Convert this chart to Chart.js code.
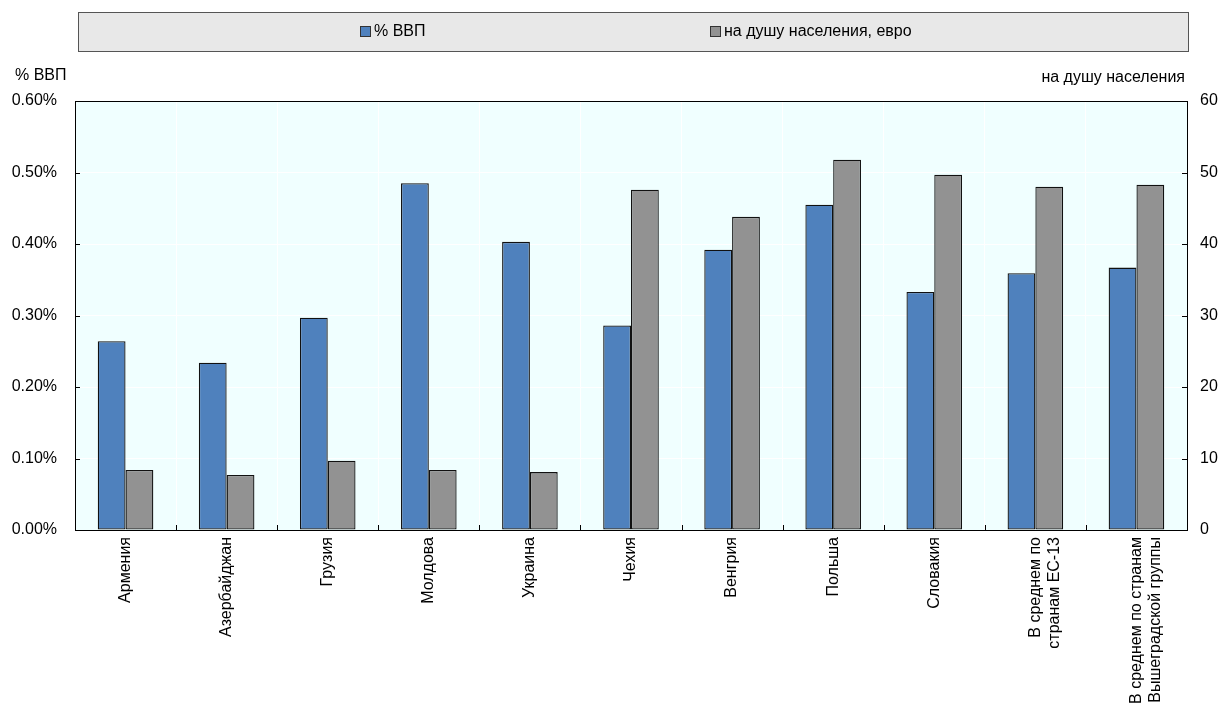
<!DOCTYPE html>
<html>
<head>
<meta charset="utf-8">
<script src="https://cdn.jsdelivr.net/npm/chart.js@4.4.1/dist/chart.umd.min.js"></script>
<style>
  html, body { margin: 0; padding: 0; background: #fff; }
  #wrap { width: 1223px; height: 706px; }
</style>
</head>
<body>
<div id="wrap"><canvas id="chart" width="1223" height="706"></canvas></div>
<script>
// categories and series
var countries = [
  'Армения', 'Азербайджан', 'Грузия', 'Молдова', 'Украина', 'Чехия',
  'Венгрия', 'Польша', 'Словакия',
  ['В среднем по', 'странам ЕС-13'],
  ['В среднем по странам', 'Вышеградской группы']
];
var gdpShare = [0.264, 0.234, 0.297, 0.485, 0.403, 0.286, 0.392, 0.455, 0.333, 0.359, 0.367]; // % ВВП
var perCapita = [8.4, 7.7, 9.7, 8.4, 8.1, 47.6, 43.8, 51.8, 49.7, 48.0, 48.3];             // евро
var seriesNames = ['% ВВП', 'на душу населения, евро'];
var leftTitle = '% ВВП';
var rightTitle = 'на душу населения';

var BLUE = '#4f81bd';
var GREY = '#929292';
var FONT = '"Liberation Sans", Arial, sans-serif';

Chart.defaults.font.family = FONT;
Chart.defaults.font.size = 16;
Chart.defaults.color = '#000';

// backgrounds, border, inner ticks, axis titles and the legend strip
var decor = {
  id: 'decor',
  beforeDraw: function (chart) {
    var c = chart.ctx, a = chart.chartArea;
    c.save();
    c.fillStyle = '#fff';
    c.fillRect(0, 0, chart.width, chart.height);
    c.fillStyle = '#f0ffff';
    c.fillRect(a.left, a.top, a.right - a.left, a.bottom - a.top);
    c.restore();
  },
  afterDatasetsDraw: function (chart) {
    var c = chart.ctx, a = chart.chartArea;
    var x = chart.scales.x, y = chart.scales.y, y1 = chart.scales.y1;
    c.save();
    c.strokeStyle = '#000';
    c.lineWidth = 1;
    c.beginPath();
    // ticks on left/right axes, pointing inward
    y.ticks.forEach(function (t) {
      var py = Math.round(y.getPixelForValue(t.value)) + 0.5;
      c.moveTo(a.left, py); c.lineTo(a.left + 5, py);
    });
    y1.ticks.forEach(function (t) {
      var py = Math.round(y1.getPixelForValue(t.value)) + 0.5;
      c.moveTo(a.right - 5, py); c.lineTo(a.right, py);
    });
    // category boundary ticks on the bottom axis
    for (var i = 1; i < countries.length; i++) {
      var px = Math.round((x.getPixelForTick(i - 1) + x.getPixelForTick(i)) / 2) + 0.5;
      c.moveTo(px, a.bottom - 5); c.lineTo(px, a.bottom);
    }
    c.stroke();
    c.strokeRect(Math.round(a.left) + 0.5, Math.round(a.top) + 0.5,
      Math.round(a.right - a.left), Math.round(a.bottom - a.top));
    c.restore();
  },
  afterDraw: function (chart) {
    var c = chart.ctx;
    c.save();
    c.font = '16px ' + FONT;
    c.fillStyle = '#000';
    c.textBaseline = 'middle';
    c.textAlign = 'left';
    c.fillText(leftTitle, 15, 76);
    c.textAlign = 'right';
    c.fillText(rightTitle, 1185, 78);

    // legend strip
    c.fillStyle = '#e8e8e8';
    c.fillRect(78, 12, 1110, 39);
    c.strokeStyle = '#555';
    c.lineWidth = 1;
    c.strokeRect(78.5, 12.5, 1110, 39);
    var items = [[360, BLUE], [710, GREY]];
    c.textAlign = 'left';
    items.forEach(function (it, k) {
      c.fillStyle = it[1];
      c.fillRect(it[0], 26, 11, 11);
      c.strokeStyle = '#333';
      c.strokeRect(it[0] + 0.5, 26.5, 10, 10);
      c.fillStyle = '#000';
      c.fillText(seriesNames[k], it[0] + 14, 32);
    });
    c.restore();
  }
};

new Chart(document.getElementById('chart'), {
  type: 'bar',
  data: {
    labels: countries,
    datasets: [
      {
        label: seriesNames[0],
        data: gdpShare,
        yAxisID: 'y',
        backgroundColor: BLUE,
        borderColor: '#111',
        borderWidth: 1.3,
        borderSkipped: false,
        barPercentage: 1.0,
        categoryPercentage: 0.55
      },
      {
        label: seriesNames[1],
        data: perCapita,
        yAxisID: 'y1',
        backgroundColor: GREY,
        borderColor: '#111',
        borderWidth: 1.3,
        borderSkipped: false,
        barPercentage: 1.0,
        categoryPercentage: 0.55
      }
    ]
  },
  options: {
    responsive: false,
    animation: false,
    layout: { padding: { top: 101, left: 0, right: 0, bottom: 0 } },
    plugins: {
      legend: { display: false },
      tooltip: { enabled: false }
    },
    scales: {
      x: {
        grid: { offset: true, color: '#ffffff', lineWidth: 1, drawTicks: false },
        border: { display: false },
        ticks: { autoSkip: false, minRotation: 90, maxRotation: 90, padding: 7, font: { size: 16 } },
        afterFit: function (s) { s.height = 176; }
      },
      y: {
        position: 'left',
        min: 0,
        max: 0.6,
        grid: { color: '#ffffff', lineWidth: 1, drawTicks: false },
        border: { display: false },
        ticks: {
          stepSize: 0.1,
          padding: 18,
          callback: function (v) { return v.toFixed(2) + '%'; }
        },
        afterFit: function (s) { s.width = 75; }
      },
      y1: {
        position: 'right',
        min: 0,
        max: 60,
        grid: { drawOnChartArea: false, drawTicks: false },
        border: { display: false },
        ticks: { stepSize: 10, padding: 13 },
        afterFit: function (s) { s.width = 36; }
      }
    }
  },
  plugins: [decor]
});
</script>
</body>
</html>
